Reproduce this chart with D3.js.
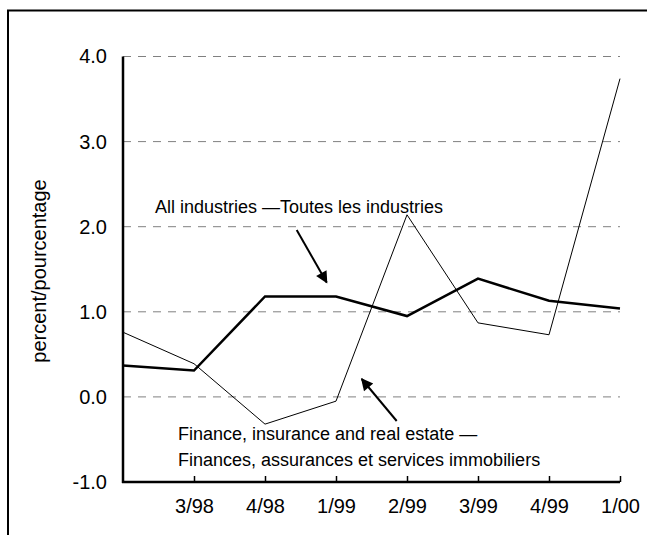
<!DOCTYPE html>
<html>
<head>
<meta charset="utf-8">
<script src="https://cdn.jsdelivr.net/npm/d3@7"></script>
<style>
  body { margin: 0; background: #fff; }
  text { font-family: "Liberation Sans", Arial, sans-serif; fill: #000; }
</style>
</head>
<body>
<div id="chart"></div>
<script>
var categories = ["2/98", "3/98", "4/98", "1/99", "2/99", "3/99", "4/99", "1/00"];
var allIndustries = [0.37, 0.31, 1.18, 1.18, 0.95, 1.39, 1.13, 1.04];
var finance = [0.76, 0.39, -0.32, -0.05, 2.14, 0.87, 0.73, 3.74];
var yTicks = [-1, 0, 1, 2, 3, 4];

var width = 647,
    height = 535;

var svg = d3.select("#chart")
    .append("svg")
    .attr("width", width)
    .attr("height", height);

// outer frame (runs off the right / bottom edge like the original)
svg.append("rect")
    .attr("x", 8)
    .attr("y", 10.5)
    .attr("width", 700)
    .attr("height", 600)
    .attr("fill", "none")
    .attr("stroke", "#000")
    .attr("stroke-width", 2);

var x = d3.scalePoint()
    .domain(categories)
    .range([123, 620]);

var y = d3.scaleLinear()
    .domain([-1, 4])
    .range([482, 56.5]);

// gridlines
svg.append("g")
    .selectAll("line")
    .data(yTicks.filter(function(d) { return d > -1; }))
    .enter()
    .append("line")
    .attr("x1", x.range()[0])
    .attr("x2", x.range()[1])
    .attr("y1", function(d) { return y(d); })
    .attr("y2", function(d) { return y(d); })
    .attr("stroke", "#808080")
    .attr("stroke-width", 1)
    .attr("stroke-dasharray", "8,7");

// y axis
var yAxis = svg.append("g")
    .attr("transform", "translate(" + x.range()[0] + ",0)")
    .call(d3.axisLeft(y).tickValues(yTicks).tickSize(0).tickPadding(16)
        .tickFormat(function(d) { return d.toFixed(1); }));
yAxis.select(".domain")
    .attr("d", "M0," + (y(-1) + 1) + "V" + y(4))
    .style("stroke", "#000")
    .style("stroke-width", "2.5px");
yAxis.selectAll("text")
    .style("font-size", "20px")
    .style("font-family", "'Liberation Sans', Arial, sans-serif");

// x axis
var xAxis = svg.append("g")
    .attr("transform", "translate(0," + y(-1) + ")")
    .call(d3.axisBottom(x).tickValues(categories.slice(1)).tickSize(-6).tickPadding(17));
xAxis.select(".domain")
    .attr("d", "M" + (x.range()[0] - 1) + ",0H" + x.range()[1])
    .style("stroke", "#000")
    .style("stroke-width", "2.5px");
xAxis.selectAll(".tick line").attr("stroke", "#000").attr("stroke-width", 1.5);
xAxis.selectAll("text")
    .style("font-size", "20px")
    .style("font-family", "'Liberation Sans', Arial, sans-serif");

// y axis title
svg.append("text")
    .attr("transform", "translate(46,271) rotate(-90)")
    .attr("text-anchor", "middle")
    .style("font-size", "20px")
    .text("percent/pourcentage");

var line = d3.line()
    .x(function(d, i) { return x(categories[i]); })
    .y(function(d) { return y(d); });

svg.append("path")
    .datum(finance)
    .attr("d", line)
    .attr("fill", "none")
    .attr("stroke", "#000")
    .attr("stroke-width", 1);

svg.append("path")
    .datum(allIndustries)
    .attr("d", line)
    .attr("fill", "none")
    .attr("stroke", "#000")
    .attr("stroke-width", 2.5)
    .attr("stroke-linejoin", "miter");

// annotations
svg.append("defs").append("marker")
    .attr("id", "head")
    .attr("viewBox", "0 0 10 10")
    .attr("refX", 9)
    .attr("refY", 5)
    .attr("markerWidth", 7)
    .attr("markerHeight", 6)
    .attr("markerUnits", "strokeWidth")
    .attr("orient", "auto")
    .append("path")
    .attr("d", "M0,0L10,5L0,10Z")
    .attr("fill", "#000");

var arrows = [
    {x1: 296.7, y1: 230, x2: 326.7, y2: 282.5},
    {x1: 396.7, y1: 421, x2: 361.7, y2: 379}
];

svg.append("g")
    .selectAll("line")
    .data(arrows)
    .enter()
    .append("line")
    .attr("x1", function(d) { return d.x1; })
    .attr("y1", function(d) { return d.y1; })
    .attr("x2", function(d) { return d.x2; })
    .attr("y2", function(d) { return d.y2; })
    .attr("stroke", "#000")
    .attr("stroke-width", 2)
    .attr("marker-end", "url(#head)");

var notes = [
    {x: 155, y: 213, t: "All industries \u2014Toutes les industries"},
    {x: 178, y: 440, t: "Finance, insurance and real estate \u2014"},
    {x: 178, y: 466, t: "Finances, assurances et services immobiliers"}
];

svg.append("g")
    .selectAll("text")
    .data(notes)
    .enter()
    .append("text")
    .attr("x", function(d) { return d.x; })
    .attr("y", function(d) { return d.y; })
    .style("font-size", "18px")
    .text(function(d) { return d.t; });
</script>
</body>
</html>
